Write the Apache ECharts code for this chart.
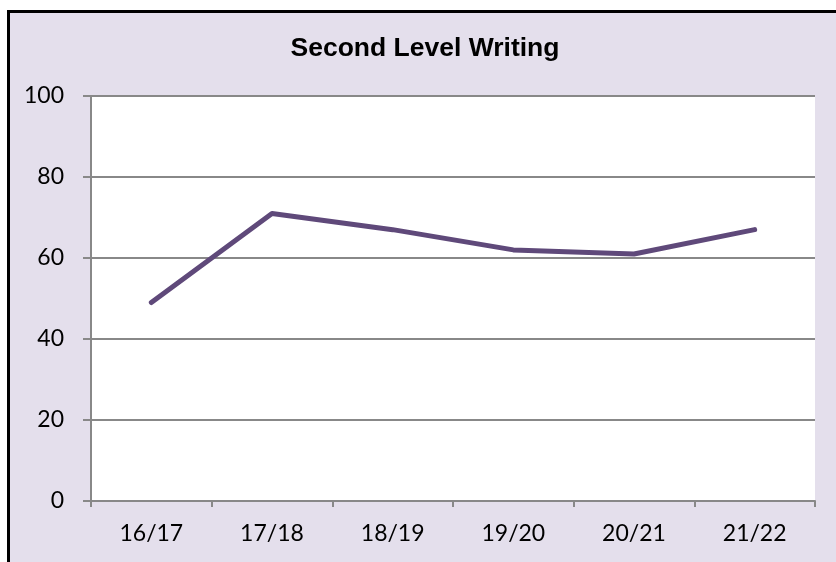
<!DOCTYPE html>
<html>
<head>
<meta charset="utf-8">
<script src="https://cdn.jsdelivr.net/npm/echarts@6/dist/echarts.min.js"></script>
<style>
  html, body { margin: 0; padding: 0; background: #fff; }
  #writing { width: 836px; height: 562px; }
</style>
</head>
<body>
<div id="writing"></div>
<script>
var years = ['16/17', '17/18', '18/19', '19/20', '20/21', '21/22'];
var scores = [49, 71, 67, 62, 61, 67];
var yTicks = [0, 20, 40, 60, 80, 100];

function initChart() {
	var myChart = echarts.init(document.getElementById('writing'));
	var option = {
		backgroundColor: '#fff',
		// lavender panel with black frame, cut off at right and bottom
		graphic: [{
			type: 'rect',
			z: -10,
			shape: { x: 8.5, y: 11.5, width: 1000, height: 800 },
			style: { fill: '#E4DFEC', stroke: '#000', lineWidth: 3 }
		}],
		title: {
			text: 'Second Level Writing',
			left: 425,
			top: 35,
			padding: 0,
			textAlign: 'center',
			textStyle: {
				fontFamily: 'Liberation Sans',
				fontWeight: 'bold',
				fontSize: 26.5,
				color: '#000'
			}
		},
		grid: {
			left: 91,
			top: 96,
			right: 21,
			bottom: 61,
			show: true,
			backgroundColor: '#fff',
			borderWidth: 0
		},
		xAxis: {
			type: 'category',
			data: years,
			boundaryGap: true,
			axisLine: { lineStyle: { color: '#888', width: 2 } },
			axisTick: { show: true, length: 6, lineStyle: { color: '#888', width: 2 } },
			axisLabel: {
				fontFamily: 'Lato',
				fontSize: 23,
				color: '#000',
				margin: 21
			}
		},
		yAxis: {
			type: 'value',
			min: yTicks[0],
			max: yTicks[yTicks.length - 1],
			interval: 20,
			axisLine: { show: true, lineStyle: { color: '#888', width: 2 } },
			axisTick: { show: true, length: 8, lineStyle: { color: '#888', width: 2 } },
			splitLine: { lineStyle: { color: '#888', width: 2 } },
			axisLabel: {
				fontFamily: 'Lato',
				fontSize: 23,
				color: '#000',
				margin: 27
			}
		},
		series: [{
			name: 'Second Level Writing',
			type: 'line',
			data: scores,
			showSymbol: false,
			symbol: 'none',
			lineStyle: { color: '#5F497A', width: 5, cap: 'round', join: 'round' }
		}]
	};
	myChart.setOption(option);
}

initChart();
</script>
</body>
</html>
